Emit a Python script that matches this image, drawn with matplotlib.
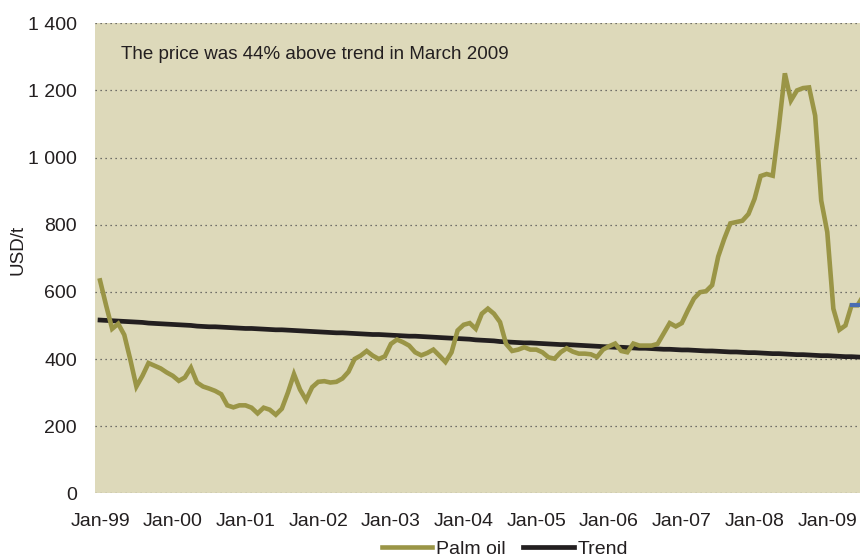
"""Palm oil price vs. trend, monthly, Jan-99 to Mar-09 (USD/t)."""

import matplotlib

matplotlib.use("Agg")
import matplotlib.pyplot as plt
from matplotlib.ticker import FuncFormatter


TICK_LABELS = ["Jan-99", "Jan-00", "Jan-01", "Jan-02", "Jan-03", "Jan-04",
               "Jan-05", "Jan-06", "Jan-07", "Jan-08", "Jan-09"]

PALM_OIL = [
    634, 560, 490, 505, 472, 398, 318, 350, 388, 380, 372, 360,
    350, 335, 345, 374, 330, 318, 312, 305, 295, 262, 256, 262,
    262, 255, 238, 255, 249, 234, 252, 300, 355, 309, 278, 316,
    332, 334, 330, 332, 342, 362, 400, 410, 424, 410, 400, 408,
    445, 458, 450, 440, 420, 411, 418, 428, 410, 391, 420, 485,
    502, 507, 490, 535, 550, 535, 510, 445, 424, 428, 435, 428,
    428, 420, 405, 401, 420, 432, 422, 416, 416, 414, 406, 428,
    438, 446, 424, 420, 446, 440, 440, 440, 445, 476, 507, 497,
    507, 545, 580, 599, 602, 620, 705, 758, 804, 808, 812, 832,
    877, 945, 951, 946, 1090, 1251, 1170, 1200, 1207, 1209, 1125, 872,
    778, 550, 487, 500, 560, 560, 590,
]

TREND = [
    516, 515, 514, 513, 512, 511, 510, 509, 507, 506, 505, 504,
    503, 502, 501, 500, 498, 497, 496, 496, 495, 494, 493, 492,
    491, 491, 490, 489, 488, 487, 487, 486, 485, 484, 483, 482,
    481, 480, 479, 478, 478, 477, 476, 475, 474, 473, 473, 472,
    471, 470, 469, 468, 468, 467, 466, 465, 464, 463, 462, 461,
    460, 459, 457, 456, 455, 454, 452, 451, 450, 449, 448, 448,
    447, 446, 445, 444, 443, 443, 442, 441, 440, 439, 438, 437,
    436, 435, 435, 434, 433, 432, 432, 431, 430, 429, 429, 428,
    427, 427, 426, 425, 424, 424, 423, 422, 421, 421, 420, 419,
    419, 418, 417, 416, 416, 415, 414, 413, 413, 412, 411, 410,
    410, 409, 408, 407, 407, 406, 405,
]

PALM_COLOR = "#9A9546"
TREND_COLOR = "#231F20"
PLOT_BG = "#DDD9BA"
TEXT_COLOR = "#231F20"


def main() -> None:
    plt.rcParams["font.family"] = ["Liberation Sans", "DejaVu Sans"]
    months = list(range(len(PALM_OIL)))

    fig = plt.figure(figsize=(8.6, 5.6), dpi=100)
    ax = fig.add_axes([95 / 860, 1 - 493.3 / 560, 765 / 860, 470 / 560])
    ax.set_facecolor(PLOT_BG)

    ax.plot(months, PALM_OIL, color=PALM_COLOR, lw=3.3, label="Palm oil",
            solid_joinstyle="miter", zorder=3)
    ax.plot(months, TREND, color=TREND_COLOR, lw=3.4, label="Trend", zorder=2)
    # a single segment is drawn in blue in the source chart
    ax.plot(months[124:126], PALM_OIL[124:126], color="#4A6DB3", lw=3.0, zorder=4)

    ax.set_ylim(0, 1400)
    ax.set_yticks(range(0, 1401, 200))
    ax.yaxis.set_major_formatter(FuncFormatter(lambda v, _: f"{v:,.0f}".replace(",", " ")))
    ax.set_xlim(-0.83, 125.4)
    ax.set_xticks(range(0, 121, 12))
    ax.set_xticklabels(TICK_LABELS)

    ax.grid(axis="y", color="#4D4D4D", linestyle=(0, (1, 3)), lw=0.9, zorder=1)
    for spine in ax.spines.values():
        spine.set_visible(False)
    ax.tick_params(axis="both", length=0, labelsize=14, colors=TEXT_COLOR)
    ax.tick_params(axis="y", pad=13)
    ax.tick_params(axis="x", pad=14)

    ax.text(0.034, 0.9326, "The price was 44% above trend in March 2009",
            transform=ax.transAxes, fontsize=13.5, color=TEXT_COLOR, va="center")
    fig.text(18 / 860, 1 - 250 / 560, "USD/t", rotation=90, fontsize=13.5,
             color=TEXT_COLOR, ha="center", va="center")

    fig.legend(loc="center", bbox_to_anchor=(505 / 860, 1 - 549 / 560), ncol=2,
               frameon=False, fontsize=14, handlelength=2.6, handletextpad=0.2,
               columnspacing=0.9, labelcolor=TEXT_COLOR)

    fig.savefig("out.png", dpi=100)
    plt.close(fig)


if __name__ == "__main__":
    main()
